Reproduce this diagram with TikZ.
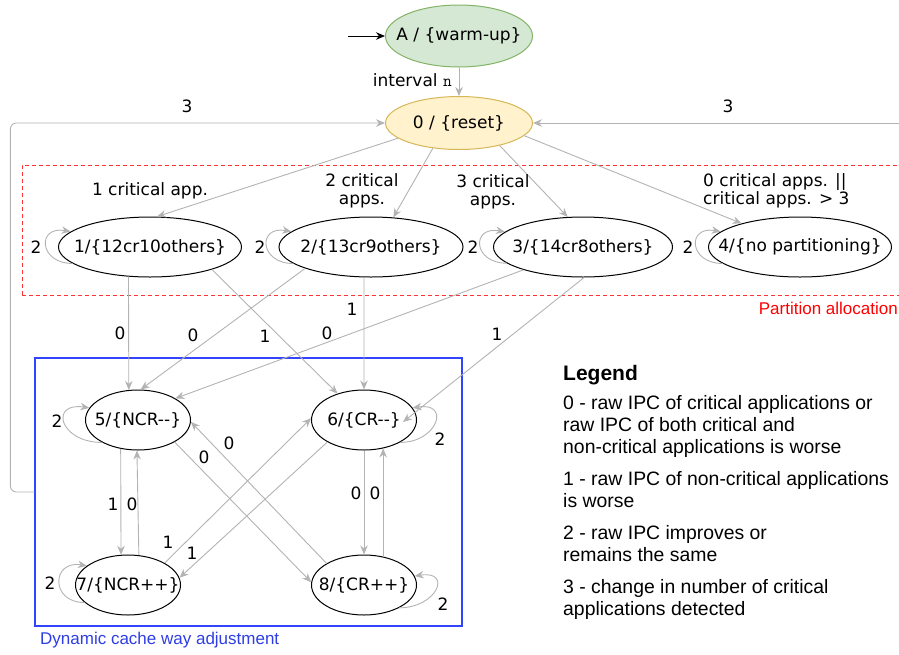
\documentclass[tikz,border=0pt]{standalone}
\usepackage{fontspec}
\setmainfont{DejaVu Sans}
\newfontfamily\legendfont{Liberation Sans}
\usetikzlibrary{shapes.geometric,arrows.meta,positioning}

\definecolor{edgegray}{HTML}{B3B3B3}
\definecolor{warmfill}{HTML}{D5E8D4}
\definecolor{warmline}{HTML}{82B366}
\definecolor{resetfill}{HTML}{FFF2CC}
\definecolor{resetline}{HTML}{D6B656}
\definecolor{partred}{HTML}{FF3333}
\definecolor{dynblue}{HTML}{3344FF}

% keep the label from widening the ellipse
\newcommand{\statetext}[1]{\makebox[0pt]{#1}}

\begin{document}
\begin{tikzpicture}[
    x=1pt, y=-1pt,
    every node/.style={font=\fontsize{17}{18.5}\selectfont},
    state/.style={ellipse, draw, line width=1pt, inner sep=0pt, minimum height=60pt, minimum width=#1},
    state/.default=105pt,
    edge/.style={draw=edgegray, line width=0.9pt, -{Stealth[length=9pt,width=7.5pt]}},
    lbl/.style={inner sep=0pt},
    legend/.style={font=\legendfont\fontsize{19.4}{22}\selectfont, align=left, inner sep=0pt},
    boxlbl/.style={font=\legendfont\fontsize{17}{19}\selectfont, inner sep=0pt}
]
\useasboundingbox (0,0) rectangle (899,654);

% frames
\node[draw=partred, dash pattern=on 4pt off 3pt, line width=1pt, inner sep=0pt,
      minimum width=880pt, minimum height=130pt] (part) at (462,230) {};
\node[draw=dynblue, line width=1.2pt, inner sep=0pt,
      minimum width=427pt, minimum height=268pt] (dyn) at (248.5,492) {};
\node[boxlbl, text=red, anchor=east] (partlbl) at (898,308) {Partition allocation};
\node[boxlbl, text=dynblue!90!black, anchor=west] (dynlbl) at (40,640) {Dynamic cache way adjustment};

% states
\node[state=147pt, minimum height=62pt, fill=warmfill, draw=warmline] (warm) at (459,36) {\statetext{A / \{warm-up\}}};
\node[state=147pt, minimum height=53pt, fill=resetfill, draw=resetline] (reset) at (459,123) {\statetext{0 / \{reset\}}};

\node[state=183pt] (s1) at (150,247) {\statetext{1/\{12cr10others\}}};
\node[state=184pt] (s2) at (371,247) {\statetext{2/\{13cr9others\}}};
\node[state=179pt] (s3) at (583,247) {\statetext{3/\{14cr8others\}}};
\node[state=183pt] (s4) at (800,247) {\statetext{4/\{no partitioning\}}};

\node[state] (s5) at (138,420) {\statetext{5/\{NCR-{}-\}}};
\node[state] (s6) at (364,420) {\statetext{6/\{CR-{}-\}}};
\node[state] (s7) at (128,585) {\statetext{7/\{NCR++\}}};
\node[state] (s8) at (364,585) {\statetext{8/\{CR++\}}};

% start and reset
\coordinate (entry) at (348,36);
\coordinate (back) at (899,123);
\draw[line width=1pt, -{Stealth[length=9pt,width=7.5pt]}] (entry) -- (warm);
\draw[edge] (warm) -- (reset);
\node[lbl, anchor=east] (lint) at (452,80) {interval \texttt{n}};
\draw[edge, rounded corners=6pt] (dyn.west) -- ++(-24,0) |- (reset.west);
\draw[edge] (back) -- (reset.east);
\node[lbl] (l3a) at (187,106) {3};
\node[lbl] (l3b) at (728,106) {3};

% partition allocation
\draw[edge] (reset.194) -- (s1.77);
\draw[edge] (reset.224) -- (s2.53);
\draw[edge] (reset.331) -- (s3.117);
\draw[edge] (reset.349) -- (s4.158);
\node[lbl] (lc1) at (150,191) {1 critical app.};
\node[lbl, align=center] (lc2) at (362,191) {2 critical\\apps.};
\node[lbl, align=center] (lc3) at (493,192) {3 critical\\apps.};
\node[lbl, align=left, anchor=west] (lc0) at (703,191) {0 critical apps. ||\\critical apps. > 3};

\draw[edge] (s1.192) .. controls +(-34,0) and +(-34,-6) .. (s1.169);
\draw[edge] (s2.192) .. controls +(-34,0) and +(-34,-6) .. (s2.169);
\draw[edge] (s3.192) .. controls +(-34,0) and +(-34,-6) .. (s3.169);
\draw[edge] (s4.192) .. controls +(-34,0) and +(-34,-6) .. (s4.169);
\node[lbl] (lp1) at (36,247) {2};
\node[lbl] (lp2) at (260,247) {2};
\node[lbl] (lp3) at (473,247) {2};
\node[lbl] (lp4) at (688,247) {2};

% into the way adjustment
\draw[edge] (s1.234) -- (s5.107);
\draw[edge] (s1.340) -- (s6.135);
\draw[edge] (s2.198) -- (s5.85);
\draw[edge] (s2.257) -- (s6.north);
\draw[edge] (s3.201) -- (s5.30);
\draw[edge] (s3.272) -- ([shift={(-14,2)}]s6.east);
\node[lbl] (l15) at (120,333) {0};
\node[lbl] (l16) at (265,336) {1};
\node[lbl] (l25) at (193,335) {0};
\node[lbl] (l26) at (352,309) {1};
\node[lbl] (l35) at (327,333) {0};
\node[lbl] (l36) at (497,334) {1};

% way adjustment
\draw[edge] (s5.239) -- (s7.103);
\draw[edge] (s7.70) -- (s5.268);
\draw[edge] (s6.south) -- (s8.north);
\draw[edge] (s8.56) -- (s6.304);
\draw[edge] (s5.329) -- (s8.177);
\draw[edge] (s8.150) -- (s5.358);
\draw[edge] (s7.31) -- (s6.178);
\draw[edge] (s6.211) -- (s7.8);
\node[lbl] (l57) at (113,504) {1};
\node[lbl] (l75) at (132,504) {0};
\node[lbl] (l68) at (356,493) {0};
\node[lbl] (l86) at (375,493) {0};
\node[lbl] (l58) at (204,457) {0};
\node[lbl] (l85) at (229,443) {0};
\node[lbl] (l76) at (168,542) {1};
\node[lbl] (l67) at (192,553) {1};

\draw[edge] (s5.212) .. controls +(-43,0) and +(-40,-6) .. (s5.166);
\draw[edge] (s7.202) .. controls +(-35,0) and +(-35,-6) .. (s7.155);
\draw[edge] (s6.328) .. controls +(38,0) and +(38,-6) .. (s6.14);
\draw[edge] (s8.327) .. controls +(38,0) and +(38,-6) .. (s8.10);
\node[lbl] (lp5) at (57,421) {2};
\node[lbl] (lp7) at (50,583) {2};
\node[lbl] (lp6) at (440,439) {2};
\node[lbl] (lp8) at (443,604) {2};

% legend
\node[font=\legendfont\bfseries\fontsize{21}{24}\selectfont, inner sep=0pt, anchor=west] (leghead) at (563,375) {Legend};
\node[legend, anchor=north west] (legbody) at (563,395) {%
  0 - raw IPC of critical applications or\\
  raw IPC of both critical and\\
  non-critical applications is worse\\[10pt]
  1 - raw IPC of non-critical applications\\
  is worse\\[10pt]
  2 - raw IPC improves or\\
  remains the same\\[10pt]
  3 - change in number of critical\\
  applications detected};
\end{tikzpicture}
\end{document}
